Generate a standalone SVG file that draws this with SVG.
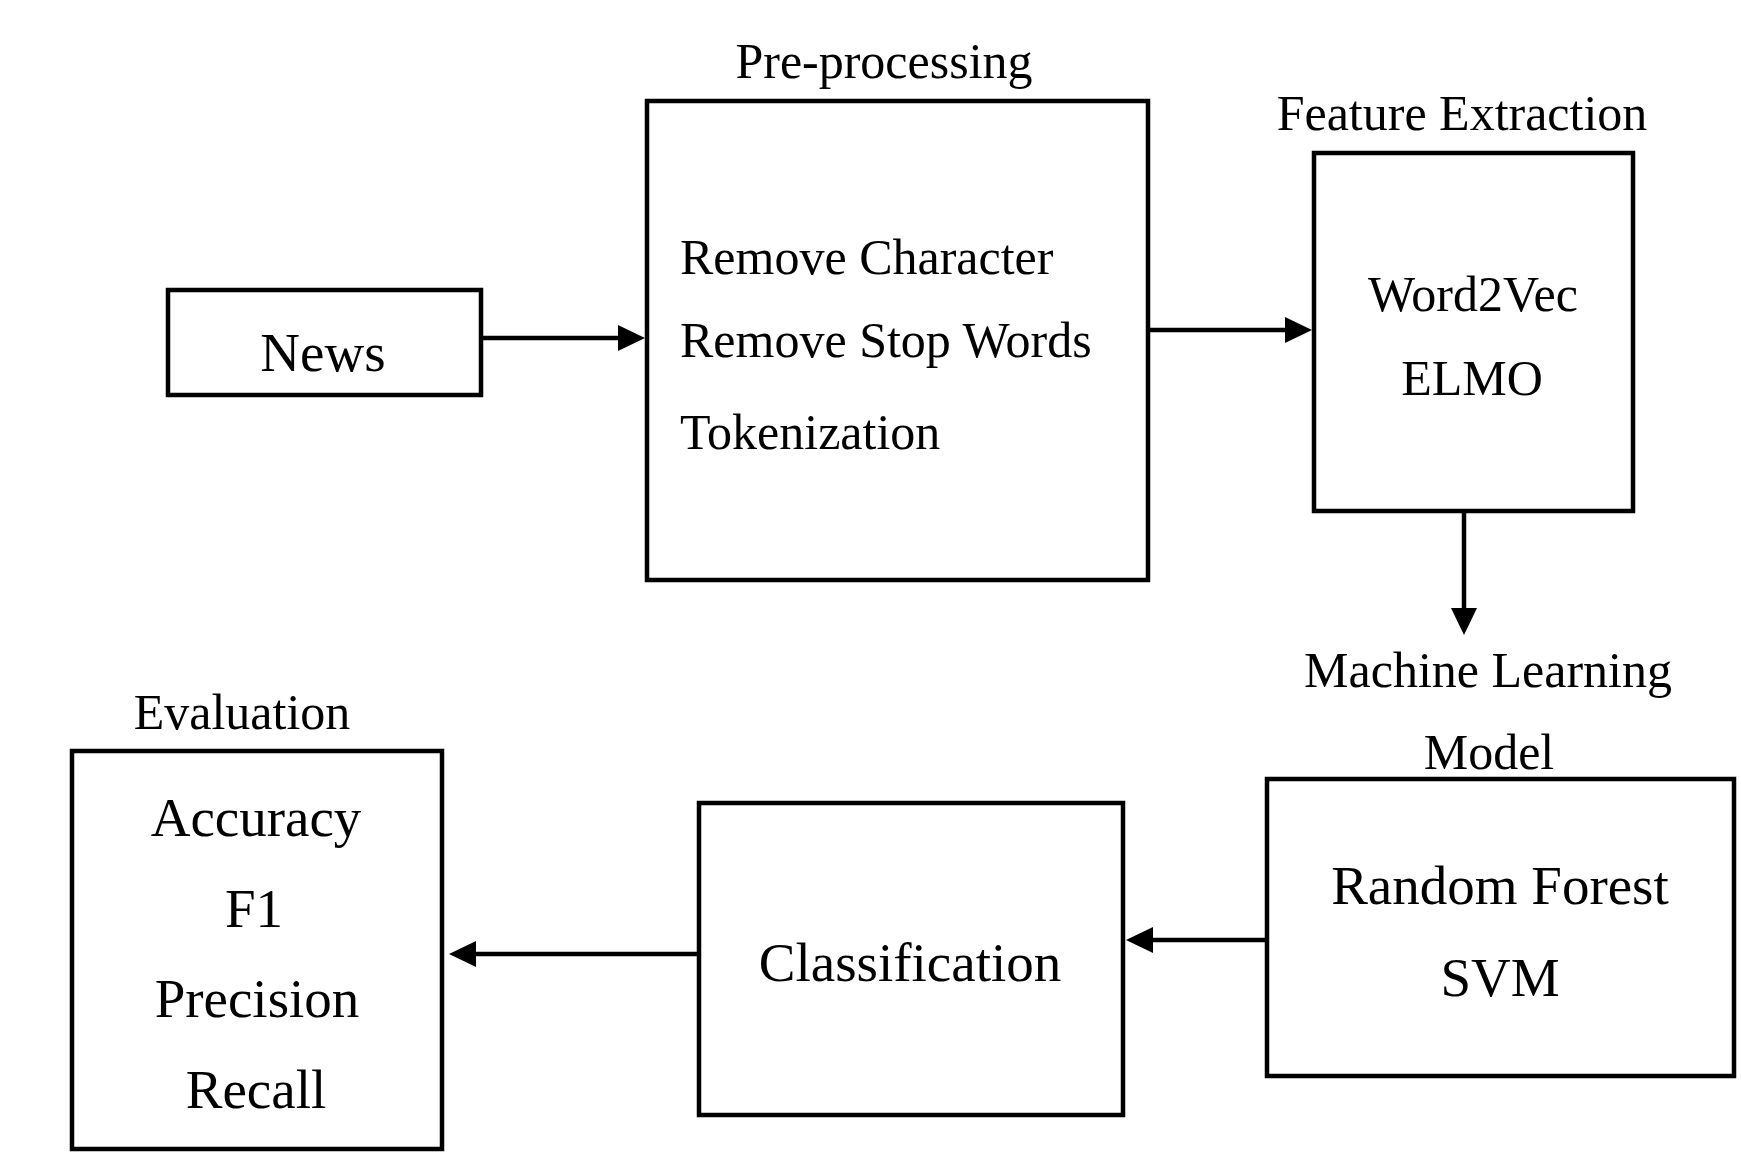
<svg xmlns="http://www.w3.org/2000/svg" width="1741" height="1155" viewBox="0 0 1741 1155">
<style>
.box{fill:#fff;stroke:#000;stroke-width:4.5}
.t{font-family:"Liberation Serif","Times New Roman",serif;fill:#000}
.s50{font-size:50px}
.s55{font-size:55px}
.c{text-anchor:middle}
.conn{stroke:#000;stroke-width:4.5;fill:none}
</style>
<defs>
<marker id="ah" markerUnits="userSpaceOnUse" markerWidth="30" markerHeight="30" refX="7" refY="13" orient="auto">
<path d="M0,0 L27,13 L0,26 Z" fill="#000"/>
</marker>
</defs>
<rect width="1741" height="1155" fill="#fff"/>
<g id="connectors">
<line class="conn" x1="482" y1="338" x2="625" y2="338" marker-end="url(#ah)"/>
<line class="conn" x1="1148" y1="330" x2="1292" y2="330" marker-end="url(#ah)"/>
<line class="conn" x1="1464" y1="512" x2="1464" y2="615" marker-end="url(#ah)"/>
<line class="conn" x1="1267" y1="940" x2="1146" y2="940" marker-end="url(#ah)"/>
<line class="conn" x1="699" y1="954" x2="469" y2="954" marker-end="url(#ah)"/>
</g>
<g id="news">
<rect class="box" x="168" y="290" width="313" height="105"/>
<text class="t s55 c" x="323" y="371">News</text>
</g>
<g id="preprocessing">
<text class="t s50 c" x="884" y="78">Pre-processing</text>
<rect class="box" x="647" y="101" width="501" height="479"/>
<text class="t s50" x="680" y="274">Remove Character</text>
<text class="t s50" x="680" y="357">Remove Stop Words</text>
<text class="t s50" x="680" y="449">Tokenization</text>
</g>
<g id="feature-extraction">
<text class="t s50 c" x="1462" y="130">Feature Extraction</text>
<rect class="box" x="1314" y="153" width="319" height="358"/>
<text class="t s50 c" x="1473" y="311">Word2Vec</text>
<text class="t s50 c" x="1472" y="395">ELMO</text>
</g>
<g id="machine-learning-model">
<text class="t s50 c" x="1488" y="687">Machine Learning</text>
<text class="t s50 c" x="1489" y="769">Model</text>
<rect class="box" x="1267" y="779" width="467" height="297"/>
<text class="t s55 c" x="1500" y="904">Random Forest</text>
<text class="t s55 c" x="1500" y="996">SVM</text>
</g>
<g id="classification">
<rect class="box" x="699" y="803" width="424" height="312"/>
<text class="t s55 c" x="910" y="981">Classification</text>
</g>
<g id="evaluation">
<text class="t s50 c" x="242" y="729">Evaluation</text>
<rect class="box" x="72" y="751" width="370" height="398"/>
<text class="t s55 c" x="256" y="836">Accuracy</text>
<text class="t s55 c" x="254" y="927">F1</text>
<text class="t s55 c" x="257" y="1017">Precision</text>
<text class="t s55 c" x="256" y="1108">Recall</text>
</g>
</svg>
